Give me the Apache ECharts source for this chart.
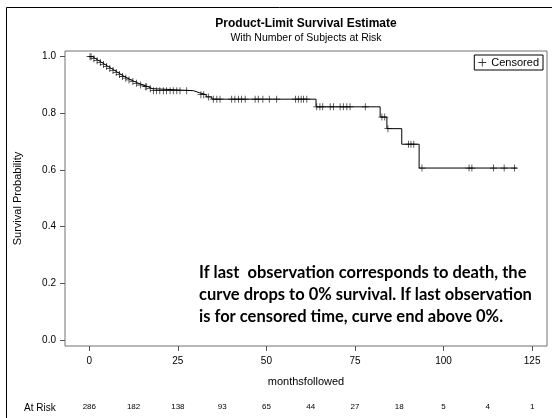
<!DOCTYPE html>
<html>
<head>
<meta charset="utf-8">
<script src="https://cdn.jsdelivr.net/npm/echarts@6/dist/echarts.min.js"></script>
<style>html,body{margin:0;padding:0;background:#fff}#c{width:552px;height:418px}</style>
</head>
<body>
<div id="c"></div>
<script>
// Kaplan-Meier step points: time (months) and survival after each event
const eventTimes = [0, 0.9, 1.8, 2.7, 3.6, 4.5, 5.4, 6.3, 7.2, 8.1, 9.0, 9.9, 10.8, 11.8, 12.8, 13.9, 15.2, 16.6, 17.8,
  29.4, 31.0, 33.0, 34.6, 64.0, 82.1, 84.0, 88.2, 93.1, 120.7];
const survival = [1.0, 0.993, 0.986, 0.979, 0.972, 0.965, 0.958, 0.951, 0.944, 0.937, 0.930, 0.924, 0.918, 0.912, 0.906, 0.900, 0.894, 0.887, 0.880,
  0.873, 0.866, 0.858, 0.850, 0.823, 0.787, 0.746, 0.691, 0.607, 0.607];
// Censored observation times (months)
const censoredTimes = [0.2, 0.5, 1.3, 2.2, 3.1, 4.0, 4.9, 5.8, 6.7, 7.6, 8.5, 9.4, 10.3, 11.2, 12.3, 13.3, 14.5, 15.8, 16.2, 17.2,
  18.1, 19.0, 19.9, 20.9, 21.8, 22.8, 23.7, 24.7, 25.6, 27.5,
  31.5, 32.3, 33.6,
  35.0, 36.0, 36.9, 40.2, 41.1, 42.1, 43.0, 44.0, 46.8, 47.7, 49.0, 50.8, 52.9, 58.2, 59.0, 59.8, 60.5, 61.4,
  64.2, 65.1, 65.9, 68.0, 68.9, 70.8, 71.7, 72.7, 73.6, 77.9,
  82.6, 83.4, 84.3, 90.1, 90.8, 91.6,
  93.9, 107.2, 108.0, 114.1, 117.1, 120.0];
// Number at risk
const atRiskTimes = [0, 12.5, 25, 37.5, 50, 62.5, 75, 87.5, 100, 112.5, 125];
const atRiskCounts = [286, 182, 138, 93, 65, 44, 27, 18, 5, 4, 1];
// Tick labels
const xTicks = [0, 25, 50, 75, 100, 125];
const yTicks = [0, 0.2, 0.4, 0.6, 0.8, 1.0];
const noteLines = [
  'If last  observation corresponds to death, the',
  'curve drops to 0% survival. If last observation',
  'is for censored time, curve end above 0%.'
];

function survAt(t) {
  let s = survival[0];
  for (let i = 0; i < eventTimes.length; i++) { if (eventTimes[i] <= t) s = survival[i]; }
  return s;
}
const curveData = eventTimes.map((t, i) => [t, survival[i]]);
const censData = censoredTimes.map(t => [t, survAt(t)]);

const plusPath = 'path://M4,0h1v9h-1z M0,4h9v1h-9z';
const FONT = 'Liberation Sans, Arial, sans-serif';
const XMIN = -6.86, XMAX = 129.2;

const chart = echarts.init(document.getElementById('c'), null, {renderer: 'canvas'});
chart.setOption({
  animation: false,
  backgroundColor: '#fff',
  title: {
    text: 'Product-Limit Survival Estimate',
    subtext: 'With Number of Subjects at Risk',
    left: 306, top: 18, textAlign: 'center', itemGap: 3, padding: 0,
    textStyle: {fontFamily: FONT, fontSize: 12, fontWeight: 'bold', color: '#000'},
    subtextStyle: {fontFamily: FONT, fontSize: 10.5, color: '#000'}
  },
  legend: {
    data: [{name: 'Censored', icon: plusPath}],
    right: 9, top: 55, padding: [2, 4, 2, 4],
    borderColor: '#000', borderWidth: 1,
    itemWidth: 8, itemHeight: 8, itemGap: 4,
    textStyle: {fontFamily: FONT, fontSize: 11, color: '#000'},
    selectedMode: false
  },
  grid: {left: 65, right: 5, top: 51, bottom: 72, show: true, borderColor: '#707070', borderWidth: 1, containLabel: false},
  xAxis: [{
    type: 'value', min: XMIN, max: XMAX,
    name: 'monthsfollowed', nameLocation: 'middle', nameGap: 30,
    nameTextStyle: {fontFamily: FONT, fontSize: 11, color: '#000'},
    axisLine: {show: false, onZero: false},
    axisTick: {show: true, inside: false, length: 5, customValues: xTicks, lineStyle: {color: '#555'}},
    axisLabel: {customValues: xTicks, margin: 10, fontFamily: FONT, fontSize: 10, color: '#000'},
    splitLine: {show: false}
  }, {
    type: 'value', min: XMIN, max: XMAX, position: 'bottom', offset: 57,
    axisLine: {show: false, onZero: false}, axisTick: {show: false}, splitLine: {show: false},
    axisLabel: {
      customValues: atRiskTimes, margin: 0, fontFamily: FONT, fontSize: 8, color: '#000',
      formatter: v => { const i = atRiskTimes.findIndex(x => Math.abs(x - v) < 1e-6); return i >= 0 ? String(atRiskCounts[i]) : ''; }
    }
  }],
  yAxis: {
    type: 'value', min: -0.021, max: 1.020,
    name: 'Survival Probability', nameLocation: 'middle', nameGap: 42,
    nameTextStyle: {fontFamily: FONT, fontSize: 11, color: '#000'},
    axisLine: {show: false, onZero: false},
    axisTick: {show: true, inside: false, length: 5, customValues: yTicks, lineStyle: {color: '#555'}},
    axisLabel: {customValues: yTicks, margin: 9, fontFamily: FONT, fontSize: 10, color: '#000', formatter: v => v.toFixed(1)},
    splitLine: {show: false}
  },
  series: [{
    name: 'Survival', type: 'line', step: 'end', data: curveData,
    showSymbol: false, symbol: 'none',
    lineStyle: {color: '#000', width: 1}, silent: true, z: 2
  }, {
    name: 'Censored', type: 'scatter', data: censData,
    symbol: plusPath, symbolSize: 7,
    itemStyle: {color: '#000'}, silent: true, z: 3
  }],
  graphic: [
    {type: 'rect', shape: {x: 6.5, y: 7.5, width: 700, height: 600}, style: {fill: 'none', stroke: '#000', lineWidth: 1}, silent: true},
    {type: 'text', x: 24, y: 408, style: {text: 'At Risk', font: '10px ' + FONT, fill: '#000', verticalAlign: 'middle'}},
    {type: 'text', x: 199, y: 273, style: {text: noteLines[0], font: 'bold 16.5px Lato, sans-serif', fill: '#000', verticalAlign: 'middle'}},
    {type: 'text', x: 199, y: 295, style: {text: noteLines[1], font: 'bold 16.5px Lato, sans-serif', fill: '#000', verticalAlign: 'middle'}},
    {type: 'text', x: 199, y: 317, style: {text: noteLines[2], font: 'bold 16.5px Lato, sans-serif', fill: '#000', verticalAlign: 'middle'}}
  ]
});
</script>
</body>
</html>
